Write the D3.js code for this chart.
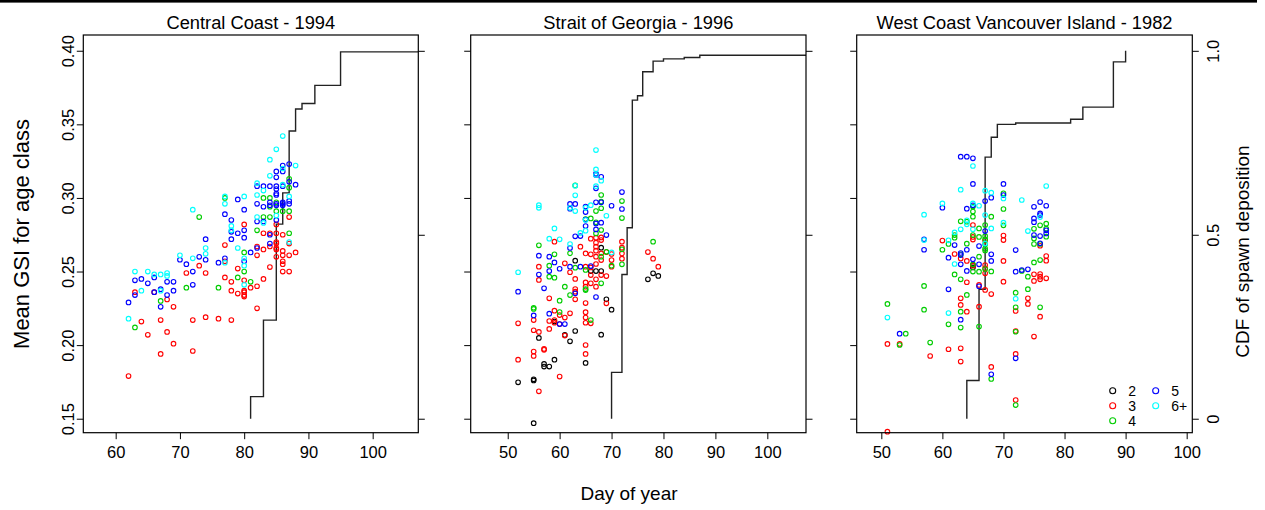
<!DOCTYPE html>
<html>
<head>
<meta charset="utf-8">
<script src="https://cdn.jsdelivr.net/npm/d3@7"></script>
<style>
  html, body { margin: 0; padding: 0; background: #fff; }
  svg { display: block; }
  text { font-family: "Liberation Sans", Arial, Helvetica, sans-serif; fill: #000; }
</style>
</head>
<body>
<svg id="chart" width="1265" height="510"></svg>
<script>
// Age classes and legend labels
const ageCodes = [2, 3, 4, 5, 6];
const ageLabels = ["2", "3", "4", "5", "6+"];

// Panel titles
const panelTitles = ["Central Coast - 1994", "Strait of Georgia - 1996", "West Coast Vancouver Island - 1982"];

// Axis tick values
const gsiTicks = [0.15, 0.20, 0.25, 0.30, 0.35, 0.40];
const gsiTickLabels = ["0.15", "0.20", "0.25", "0.30", "0.35", "0.40"];
const cdfTicks = [0, 0.5, 1.0];
const cdfTickLabels = ["0", "0.5", "1.0"];
const dayTicksCC = [60, 70, 80, 90, 100];
const dayTicksSOG = [50, 60, 70, 80, 90, 100];
const dayTicksWCVI = [50, 60, 70, 80, 90, 100];

// Mean GSI by sample: [day of year, mean GSI, age class]
const centralCoast = [
  [62,0.229,5],[62,0.218,6],[62,0.179,3],
  [63,0.250,6],[63,0.244,5],[63,0.236,3],[63,0.234,5],[63,0.212,4],
  [64,0.245,5],[64,0.237,6],[64,0.216,3],
  [65,0.250,6],[65,0.242,5],[65,0.207,3],
  [66,0.248,6],[66,0.246,5],[66,0.236,5],[66,0.236,3],
  [67,0.248,6],[67,0.238,5],[67,0.237,6],[67,0.230,4],[67,0.226,5],[67,0.217,3],[67,0.194,3],
  [68,0.249,6],[68,0.247,6],[68,0.243,5],[68,0.234,5],[68,0.231,3],[68,0.209,3],
  [69,0.243,5],[69,0.237,5],[69,0.226,3],[69,0.201,3],
  [70,0.261,6],[70,0.258,5],
  [71,0.255,5],[71,0.249,3],[71,0.239,4],
  [72,0.292,6],[72,0.259,6],[72,0.250,5],[72,0.241,5],[72,0.217,3],[72,0.196,3],
  [73,0.287,4],[73,0.260,5],[73,0.254,3],
  [74,0.272,5],[74,0.266,6],[74,0.262,6],[74,0.258,5],[74,0.249,3],[74,0.219,3],
  [76,0.256,5],[76,0.239,4],[76,0.218,3],
  [77,0.301,6],[77,0.300,4],[77,0.296,6],[77,0.289,5],[77,0.268,3],[77,0.259,5],[77,0.257,3],[77,0.256,6],[77,0.246,3],
  [78,0.285,5],[78,0.281,6],[78,0.278,6],[78,0.277,5],[78,0.272,5],[78,0.243,3],[78,0.237,3],[78,0.217,3],
  [79,0.299,5],[79,0.276,5],[79,0.266,6],[79,0.252,3],[79,0.246,4],[79,0.235,3],
  [80,0.301,6],[80,0.292,5],[80,0.282,3],[80,0.278,5],[80,0.273,5],[80,0.263,4],[80,0.259,6],[80,0.257,5],
  [80,0.254,6],[80,0.250,4],[80,0.244,3],[80,0.241,6],[80,0.237,3],[80,0.236,3],[80,0.234,3],[80,0.233,3],
  [81,0.263,5],[81,0.243,4],[81,0.239,3],
  [82,0.310,6],[82,0.308,5],[82,0.302,6],[82,0.296,5],[82,0.287,6],[82,0.284,5],[82,0.278,4],[82,0.267,3],
  [82,0.266,5],[82,0.261,3],[82,0.240,3],[82,0.225,3],
  [83,0.308,5],[83,0.305,6],[83,0.300,4],[83,0.294,5],[83,0.287,4],[83,0.284,5],[83,0.283,6],[83,0.276,3],
  [83,0.265,3],[83,0.245,3],
  [84,0.326,6],[84,0.315,6],[84,0.308,5],[84,0.300,4],[84,0.297,5],[84,0.295,5],[84,0.294,4],[84,0.287,4],
  [84,0.276,3],[84,0.275,5],[84,0.269,5],[84,0.267,3],[84,0.253,3],
  [85,0.333,6],[85,0.318,5],[85,0.314,5],[85,0.308,5],[85,0.306,5],[85,0.303,5],[85,0.302,5],[85,0.297,4],
  [85,0.296,5],[85,0.295,5],[85,0.291,4],[85,0.288,6],[85,0.285,5],[85,0.282,3],[85,0.276,3],[85,0.270,3],
  [85,0.269,3],[85,0.266,3],[85,0.265,3],[85,0.260,3],
  [86,0.342,6],[86,0.322,5],[86,0.320,6],[86,0.318,5],[86,0.309,6],[86,0.308,5],[86,0.297,5],[86,0.296,5],
  [86,0.295,5],[86,0.291,4],[86,0.275,3],[86,0.264,3],[86,0.261,3],[86,0.257,3],[86,0.255,3],[86,0.250,3],
  [87,0.323,5],[87,0.313,4],[87,0.311,5],[87,0.307,4],[87,0.301,6],[87,0.298,5],[87,0.296,5],[87,0.291,4],
  [87,0.287,3],[87,0.276,4],[87,0.270,6],[87,0.269,3],[87,0.261,3],[87,0.250,3],
  [88,0.322,6],[88,0.309,5],[88,0.263,3]
];

const straitOfGeorgia = [
  [52,0.2495,6],[52,0.2363,5],[52,0.2148,3],[52,0.1901,3],[52,0.1747,2],
  [55,0.2254,4],[55,0.2246,4],[55,0.2202,5],[55,0.2170,3],[55,0.2101,3],[55,0.1956,3],[55,0.1926,3],
  [55,0.1768,2],[55,0.1760,2],[55,0.1470,2],
  [56,0.2951,6],[56,0.2933,6],[56,0.2678,4],[56,0.2608,5],[56,0.2533,3],[56,0.2479,5],[56,0.2443,3],
  [56,0.2090,3],[56,0.2049,2],[56,0.1686,3],
  [57,0.2386,5],[57,0.1974,3],[57,0.1968,3],[57,0.1872,2],[57,0.1854,2],
  [58,0.2723,6],[58,0.2601,5],[58,0.2540,4],[58,0.2503,5],[58,0.2465,4],[58,0.2318,3],[58,0.2214,5],
  [58,0.2164,3],[58,0.2110,3],[58,0.1854,2],
  [59,0.2793,6],[59,0.2703,3],[59,0.2617,4],[59,0.2562,5],[59,0.2458,4],[59,0.2234,3],[59,0.2170,3],
  [59,0.2160,2],[59,0.2152,3],[59,0.1901,2],
  [60,0.2719,6],[60,0.2519,5],[60,0.2302,4],[60,0.2225,4],[60,0.2204,3],[60,0.2143,5],[60,0.2143,3],[60,0.1786,3],
  [61,0.2556,3],[61,0.2397,4],[61,0.2187,3],[61,0.2143,5],[61,0.2069,2],[61,0.2065,3],
  [62,0.2959,5],[62,0.2933,6],[62,0.2927,5],[62,0.2687,6],[62,0.2660,5],[62,0.2624,4],[62,0.2533,5],
  [62,0.2495,3],[62,0.2340,4],[62,0.2216,3],[62,0.2026,2],
  [63,0.3085,4],[63,0.3083,6],[63,0.3018,6],[63,0.2959,5],[63,0.2911,6],[63,0.2739,5],[63,0.2574,2],
  [63,0.2526,4],[63,0.2450,3],[63,0.2381,3],[63,0.2363,3],[63,0.2352,5],[63,0.2311,3],[63,0.2096,2],
  [64,0.2762,6],[64,0.2741,5],[64,0.2669,3],[64,0.2533,5],
  [65,0.2941,5],[65,0.2933,6],[65,0.2904,5],[65,0.2857,4],[65,0.2853,5],[65,0.2850,6],[65,0.2809,5],
  [65,0.2777,6],[65,0.2623,3],[65,0.2533,3],[65,0.2511,4],[65,0.2426,3],[65,0.2397,3],[65,0.2381,4],
  [65,0.2374,4],[65,0.2286,3],[65,0.2224,3],[65,0.2187,3],[65,0.2152,3],[65,0.2001,3],[65,0.1940,3],[65,0.1879,2],
  [66,0.2951,6],[66,0.2861,4],[66,0.2723,3],[66,0.2617,3],[66,0.2537,5],[66,0.2528,3],[66,0.2503,2],
  [66,0.2476,3],[66,0.2420,3],[66,0.2170,4],[66,0.2148,3],
  [67,0.3325,6],[67,0.3194,6],[67,0.3165,5],[67,0.3156,5],[67,0.3156,6],[67,0.3080,6],[67,0.3065,5],
  [67,0.2970,5],[67,0.2911,4],[67,0.2834,4],[67,0.2827,5],[67,0.2786,5],[67,0.2759,4],[67,0.2730,3],
  [67,0.2696,3],[67,0.2669,3],[67,0.2642,3],[67,0.2601,3],[67,0.2551,3],[67,0.2503,2],[67,0.2447,3],
  [67,0.2397,3],[67,0.2327,5],
  [68,0.3144,5],[68,0.3117,6],[68,0.3020,4],[68,0.2975,4],[68,0.2970,5],[68,0.2930,4],[68,0.2832,5],
  [68,0.2782,4],[68,0.2732,3],[68,0.2714,3],[68,0.2662,2],[68,0.2623,3],[68,0.2601,4],[68,0.2578,3],
  [68,0.2503,2],[68,0.2476,3],[68,0.2420,4],[68,0.2071,2],
  [69,0.2879,6],[69,0.2748,5],[69,0.2634,4],[69,0.2632,3],[69,0.2469,3],[69,0.2311,2],[69,0.2284,3],
  [70,0.2947,5],[70,0.2630,6],[70,0.2619,3],[70,0.2578,3],[70,0.2540,4],[70,0.2533,3],[70,0.2241,2],
  [72,0.3040,5],[72,0.2979,4],[72,0.2925,5],[72,0.2863,4],[72,0.2703,3],[72,0.2662,3],[72,0.2651,4],
  [72,0.2623,3],[72,0.2587,3],[72,0.2549,4],
  [77,0.2632,3],[77,0.2447,2],
  [78,0.2703,4],[78,0.2587,3],[78,0.2488,2],
  [79,0.2533,3],[79,0.2470,2]
];

const westCoastVI = [
  [51,0.2280,4],[51,0.2187,6],[51,0.2008,3],[51,0.1412,3],
  [53,0.2078,5],[53,0.2008,3],[53,0.2001,4],
  [54,0.2078,4],
  [57,0.2886,6],[57,0.2719,5],[57,0.2714,6],[57,0.2648,5],[57,0.2402,4],[57,0.2241,4],
  [58,0.2017,4],[58,0.1926,3],
  [60,0.2963,6],[60,0.2934,5],[60,0.2710,3],[60,0.2648,4],
  [61,0.2712,6],[61,0.2687,4],[61,0.2594,5],[61,0.2379,5],[61,0.2218,6],[61,0.2141,4],[61,0.1972,3],
  [62,0.2766,6],[62,0.2748,4],[62,0.2730,4],[62,0.2680,5],[62,0.2619,3],[62,0.2551,6],[62,0.2480,4],
  [63,0.3280,5],[63,0.3056,6],[63,0.2841,4],[63,0.2787,6],[63,0.2626,5],[63,0.2617,4],[63,0.2612,5],
  [63,0.2589,3],[63,0.2549,5],[63,0.2447,4],[63,0.2318,3],[63,0.2273,3],[63,0.2227,4],[63,0.2173,5],
  [63,0.2119,4],[63,0.1978,3],[63,0.1888,3],
  [64,0.3280,5],[64,0.2927,5],[64,0.2848,6],[64,0.2839,4],[64,0.2821,6],[64,0.2689,4],[64,0.2648,5],
  [64,0.2572,3],[64,0.2504,5],[64,0.2427,3],[64,0.2341,4],[64,0.2227,3],
  [65,0.3269,5],[65,0.3217,6],[65,0.3095,5],[65,0.2963,6],[65,0.2950,5],[65,0.2941,4],[65,0.2907,4],
  [65,0.2873,4],[65,0.2816,3],[65,0.2787,6],[65,0.2748,4],[65,0.2735,3],[65,0.2717,3],[65,0.2583,5],
  [65,0.2549,4],[65,0.2544,2],[65,0.2540,3],[65,0.2528,2],[65,0.2500,4],
  [66,0.2947,6],[66,0.2793,4],[66,0.2735,4],[66,0.2673,5],[66,0.2601,4],[66,0.2549,5],[66,0.2499,4],
  [66,0.2409,3],[66,0.2400,5],[66,0.2261,3],[66,0.2126,4],
  [67,0.3049,6],[67,0.2979,5],[67,0.2884,6],[67,0.2816,4],[67,0.2775,5],[67,0.2740,4],[67,0.2719,4],
  [67,0.2710,3],[67,0.2690,6],[67,0.2685,4],[67,0.2655,4],[67,0.2643,4],[67,0.2544,3],[67,0.2522,3],
  [67,0.2517,4],[67,0.2488,3],[67,0.2375,3],
  [68,0.3036,6],[68,0.3002,5],[68,0.2873,4],[68,0.2793,6],[68,0.2617,5],[68,0.2572,5],[68,0.2501,4],
  [68,0.2347,3],[68,0.1852,3],[68,0.1802,5],[68,0.1770,4],
  [70,0.3095,5],[70,0.3031,4],[70,0.3020,5],[70,0.2997,6],[70,0.2925,4],[70,0.2832,6],[70,0.2814,4],
  [70,0.2744,3],[70,0.2714,3],[70,0.2572,3],[70,0.2431,3],
  [72,0.2646,5],[72,0.2499,5],[72,0.2356,4],[72,0.2315,6],[72,0.2257,4],[72,0.2232,3],[72,0.2096,3],
  [72,0.2091,4],[72,0.1940,3],[72,0.1910,5],[72,0.1627,3],[72,0.1593,4],
  [73,0.2986,6],[73,0.2510,5],[73,0.2504,4],
  [74,0.2775,6],[74,0.2515,5],[74,0.2465,4],[74,0.2380,4],[74,0.2318,3],[74,0.2280,3],
  [75,0.2940,5],[75,0.2861,5],[75,0.2835,5],[75,0.2790,4],[75,0.2748,5],[75,0.2725,4],[75,0.2687,4],
  [75,0.2562,4],[75,0.2481,3],[75,0.2436,3],[75,0.2058,3],
  [76,0.2972,5],[76,0.2895,5],[76,0.2884,5],[76,0.2870,6],[76,0.2814,4],[76,0.2741,5],[76,0.2692,5],
  [76,0.2687,4],[76,0.2675,3],[76,0.2578,4],[76,0.2483,3],[76,0.2465,3],[76,0.2447,3],[76,0.2257,4],[76,0.2193,3],
  [77,0.3081,6],[77,0.2947,5],[77,0.2825,4],[77,0.2791,4],[77,0.2780,5],[77,0.2759,5],[77,0.2737,4],
  [77,0.2605,3],[77,0.2574,3],[77,0.2454,3]
];

// Cumulative spawn deposition: day of step and CDF value reached
const ccCdfDay = [81, 83, 85, 86, 87, 88, 89, 91, 95];
const ccCdf = [0.060, 0.268, 0.529, 0.614, 0.782, 0.842, 0.857, 0.906, 0.997];
const sogCdfDay = [70, 72, 73, 74, 75, 76, 78, 80, 84, 87];
const sogCdf = [0.126, 0.392, 0.519, 0.866, 0.878, 0.943, 0.972, 0.978, 0.982, 0.988];
const wcviCdfDay = [64, 66, 67, 68, 69, 72, 81, 83, 88, 90];
const wcviCdf = [0.104, 0.352, 0.711, 0.765, 0.800, 0.804, 0.814, 0.847, 0.970, 1.000];

// ---- drawing ----
const colorByAge = d3.scaleOrdinal().domain(ageCodes)
  .range(["#000000", "#FF0000", "#00CD00", "#0000FF", "#00FFFF"]);

const FONT = '"Liberation Sans", Arial, Helvetica, sans-serif';
const svg = d3.select("#chart");
svg.append("rect").attr("width", 1265).attr("height", 510).attr("fill", "#fff");
svg.append("rect").attr("x", 0).attr("y", 0).attr("width", 1257).attr("height", 2.6).attr("fill", "#000");

const boxTop = 35, boxBottom = 432.7;
const gsiDomain = [0.1405, 0.4107];
const cdfDomain = [-0.038, 1.043];

const panels = [
  { title: panelTitles[0], pts: centralCoast, cdfDay: ccCdfDay, cdf: ccCdf, extend: true,
    left: 83.3, right: 418.3, xDomain: [54.96, 107.1], ticks: dayTicksCC, yLabels: true, rLabels: false },
  { title: panelTitles[1], pts: straitOfGeorgia, cdfDay: sogCdfDay, cdf: sogCdf, extend: true,
    left: 470.7, right: 806, xDomain: [42.87, 107.45], ticks: dayTicksSOG, yLabels: false, rLabels: false },
  { title: panelTitles[2], pts: westCoastVI, cdfDay: wcviCdfDay, cdf: wcviCdf, extend: false,
    left: 856.7, right: 1192.3, xDomain: [45.97, 100.92], ticks: dayTicksWCVI, yLabels: false, rLabels: true }
];

const y = d3.scaleLinear().domain(gsiDomain).range([boxBottom, boxTop]);
const yc = d3.scaleLinear().domain(cdfDomain).range([boxBottom, boxTop]);

panels.forEach(p => {
  const x = d3.scaleLinear().domain(p.xDomain).range([p.left, p.right]);
  const g = svg.append("g");

  // bottom axis (day of year)
  const xa = g.append("g").attr("transform", `translate(0,${boxBottom})`)
    .call(d3.axisBottom(x).tickValues(p.ticks).tickFormat(d3.format("d")).tickSize(6.5).tickSizeOuter(0));
  xa.select(".domain").remove();
  xa.selectAll("line").attr("stroke", "#000").attr("stroke-width", 1);
  xa.selectAll("text").attr("font-size", 16.5).attr("dy", null).attr("y", 25)
    .style("font-family", FONT).attr("fill", "#000");

  // left axis (GSI)
  const ya = g.append("g").attr("transform", `translate(${p.left},0)`)
    .call(d3.axisLeft(y).tickValues(gsiTicks).tickFormat((d, i) => gsiTickLabels[i]).tickSize(6.5).tickSizeOuter(0));
  ya.select(".domain").remove();
  ya.selectAll("line").attr("stroke", "#000").attr("stroke-width", 1);
  if (p.yLabels) {
    ya.selectAll("text").attr("dy", null).attr("x", 0).attr("y", -9.5)
      .attr("transform", "rotate(-90)")
      .attr("text-anchor", "middle")
      .attr("font-size", 16.5)
      .style("font-family", FONT).attr("fill", "#000");
  } else {
    ya.selectAll("text").remove();
  }

  // right axis (CDF)
  const ra = g.append("g").attr("transform", `translate(${p.right},0)`)
    .call(d3.axisRight(yc).tickValues(cdfTicks).tickFormat((d, i) => cdfTickLabels[i]).tickSize(6.5).tickSizeOuter(0));
  ra.select(".domain").remove();
  ra.selectAll("line").attr("stroke", "#000").attr("stroke-width", 1);
  if (p.rLabels) {
    ra.selectAll("text").attr("dy", null).attr("x", 0).attr("y", 26.7)
      .attr("transform", "rotate(-90)")
      .attr("text-anchor", "middle")
      .attr("font-size", 16.5)
      .style("font-family", FONT).attr("fill", "#000");
  } else {
    ra.selectAll("text").remove();
  }

  // CDF step line
  const stepPts = [[p.cdfDay[0], 0]].concat(p.cdfDay.map((d, i) => [d, p.cdf[i]]));
  if (p.extend) stepPts.push([p.xDomain[1], p.cdf[p.cdf.length - 1]]);
  g.append("path")
    .attr("d", d3.line().x(d => x(d[0])).y(d => yc(d[1])).curve(d3.curveStepAfter)(stepPts))
    .attr("fill", "none").attr("stroke", "#222").attr("stroke-width", 1.4);

  // points, drawn by age class
  const sorted = p.pts.slice().sort((a, b) => ageCodes.indexOf(a[2]) - ageCodes.indexOf(b[2]));
  g.append("g").selectAll("circle").data(sorted).join("circle")
    .attr("cx", d => x(d[0])).attr("cy", d => y(d[1])).attr("r", 2.3)
    .attr("fill", "none").attr("stroke", d => colorByAge(d[2])).attr("stroke-width", 1.1);

  // plot box
  g.append("rect").attr("x", p.left).attr("y", boxTop)
    .attr("width", p.right - p.left).attr("height", boxBottom - boxTop)
    .attr("fill", "none").attr("stroke", "#000").attr("stroke-width", 1.2);

  // panel title
  g.append("text").attr("x", (p.left + p.right) / 2).attr("y", 29)
    .attr("text-anchor", "middle").attr("font-size", 18.3).text(p.title);

  // legend
  if (p.rLabels) {
    const lg = g.append("g");
    const cols = [[0, 1, 2], [3, 4]];
    const colX = [1112.7, 1155.7];
    cols.forEach((col, ci) => {
      col.forEach((k, ri) => {
        const cy = 390.7 + ri * 15;
        lg.append("circle").attr("cx", colX[ci]).attr("cy", cy).attr("r", 3)
          .attr("fill", "none").attr("stroke", colorByAge(ageCodes[k])).attr("stroke-width", 1.1);
        lg.append("text").attr("x", colX[ci] + 15.5).attr("y", cy + 5)
          .attr("font-size", 14).text(ageLabels[k]);
      });
    });
  }
});

// axis titles
svg.append("text").attr("x", 629).attr("y", 500).attr("text-anchor", "middle")
  .attr("font-size", 19).text("Day of year");
svg.append("text").attr("transform", "translate(29,234) rotate(-90)").attr("text-anchor", "middle")
  .attr("font-size", 22).text("Mean GSI for age class");
svg.append("text").attr("transform", "translate(1249,251.5) rotate(-90)").attr("text-anchor", "middle")
  .attr("font-size", 19).text("CDF of spawn deposition");
</script>
</body>
</html>
